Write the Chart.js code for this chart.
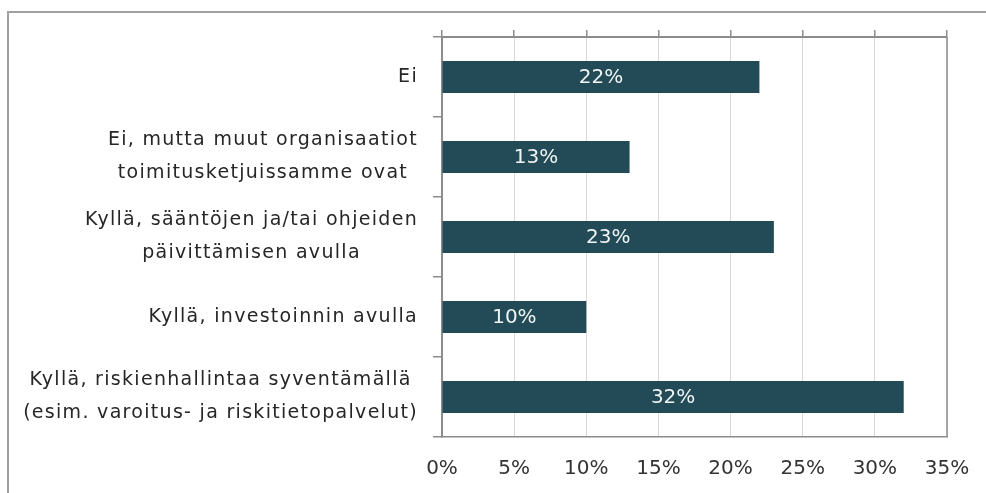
<!DOCTYPE html>
<html>
<head>
<meta charset="utf-8">
<script src="https://cdn.jsdelivr.net/npm/chart.js@4"></script>
<style>
  html, body { margin: 0; padding: 0; background: #fff; overflow: hidden; }
  #wrap { position: relative; width: 986px; height: 493px; overflow: hidden; }
  #chart { position: absolute; left: 0; top: 0; }
  #frame { position: absolute; left: 7px; top: 11px; width: 1100px; height: 700px;
           border: 2px solid #a0a0a0; pointer-events: none; }
</style>
</head>
<body>
<div id="wrap">
  <canvas id="chart" width="986" height="493"></canvas>
  <div id="frame"></div>
</div>
<script>
// answers, top to bottom
const categories = [
  ['Ei'],
  ['Ei, mutta muut organisaatiot', 'toimitusketjuissamme ovat'],
  ['Kyllä, sääntöjen ja/tai ohjeiden', 'päivittämisen avulla'],
  ['Kyllä, investoinnin avulla'],
  ['Kyllä, riskienhallintaa syventämällä', '(esim. varoitus- ja riskitietopalvelut)']
];
const shares = [22, 13, 23, 10, 32];   // % of respondents
const axisMin = 0;
const axisMax = 35;
const axisStep = 5;

const FONT = '"DejaVu Sans", Verdana, sans-serif';
const AXIS_GRAY = '#8c8c8c';

// value labels in the middle of each bar
const barLabels = {
  id: 'barLabels',
  afterDatasetsDraw(chart) {
    const ctx = chart.ctx;
    const meta = chart.getDatasetMeta(0);
    ctx.save();
    ctx.font = '20px ' + FONT;
    ctx.fillStyle = '#eef3f4';
    ctx.textAlign = 'center';
    ctx.textBaseline = 'middle';
    meta.data.forEach((bar, i) => {
      ctx.fillText(shares[i] + '%', (bar.x + bar.base) / 2, bar.y + 1);
    });
    ctx.restore();
  }
};

// category labels: block right-aligned to the axis, lines centred inside the block
const categoryLabels = {
  id: 'categoryLabels',
  afterDraw(chart) {
    const ctx = chart.ctx;
    const y = chart.scales.y;
    const right = chart.chartArea.left - 24;
    const lh = 33;
    ctx.save();
    ctx.font = '19px ' + FONT;
    ctx.letterSpacing = '1.3px';
    ctx.fillStyle = '#262626';
    ctx.textAlign = 'center';
    ctx.textBaseline = 'middle';
    categories.forEach((lines, i) => {
      const cy = y.getPixelForValue(i);
      const w = Math.max(...lines.map(l => ctx.measureText(l).width));
      const cx = right - w / 2;
      lines.forEach((l, j) => {
        ctx.fillText(l, cx, cy + (j - (lines.length - 1) / 2) * lh);
      });
    });
    ctx.letterSpacing = '0px';
    // right edge of the plot box
    const a = chart.chartArea;
    ctx.strokeStyle = AXIS_GRAY;
    ctx.lineWidth = 1.5;
    ctx.beginPath();
    ctx.moveTo(a.right, a.top);
    ctx.lineTo(a.right, a.bottom);
    ctx.stroke();
    ctx.restore();
  }
};

new Chart(document.getElementById('chart'), {
  type: 'bar',
  data: {
    labels: categories.map(c => c.join(' ')),
    datasets: [{
      data: shares,
      backgroundColor: '#234b57',
      borderWidth: 0,
      barPercentage: 0.4,
      categoryPercentage: 1.0
    }]
  },
  options: {
    indexAxis: 'y',
    responsive: false,
    animation: false,
    devicePixelRatio: 1,
    layout: { padding: { top: 30, right: 39, bottom: 0, left: 0 } },
    plugins: {
      legend: { display: false },
      tooltip: { enabled: false }
    },
    scales: {
      x: {
        type: 'linear',
        position: 'bottom',
        min: axisMin,
        max: axisMax,
        ticks: {
          stepSize: axisStep,
          callback: v => v + '%',
          font: { family: FONT, size: 20 },
          color: '#333',
          padding: 20
        },
        grid: { color: '#d9d9d9', lineWidth: 1, drawTicks: false },
        border: { display: true, color: AXIS_GRAY, width: 1.5 },
        afterFit(s) {
          s.height = 56;
          s.paddingLeft = 0;
          s.paddingRight = 0;
        }
      },
      x2: {
        type: 'linear',
        position: 'top',
        min: axisMin,
        max: axisMax,
        ticks: { display: false, stepSize: axisStep },
        grid: { drawOnChartArea: false, tickLength: 7, color: AXIS_GRAY, lineWidth: 1.5 },
        border: { display: true, color: AXIS_GRAY, width: 2 }
      },
      y: {
        type: 'category',
        ticks: { display: false },
        grid: { offset: true, drawOnChartArea: false, tickLength: 9, color: AXIS_GRAY, lineWidth: 1.5 },
        border: { display: true, color: AXIS_GRAY, width: 2 },
        afterFit(s) { s.width = 442; }
      }
    }
  },
  plugins: [barLabels, categoryLabels]
});
</script>
</body>
</html>
